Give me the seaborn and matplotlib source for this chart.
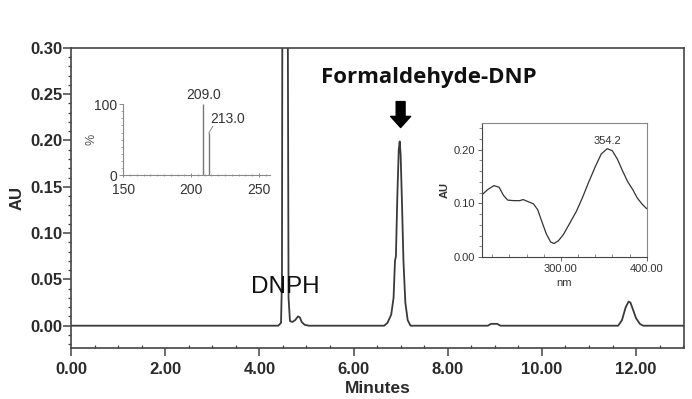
import matplotlib
matplotlib.use('Agg')
import numpy as np
import pandas as pd
import matplotlib.pyplot as plt
from matplotlib.ticker import MultipleLocator, FormatStrFormatter
import seaborn as sns

# Chromatogram (minutes, AU)
time_min = [0.0, 4.40, 4.46, 4.48, 4.49, 4.60, 4.62, 4.65, 4.70, 4.76, 4.82, 4.86,
            4.90, 4.96, 5.05, 6.65, 6.72, 6.80, 6.85, 6.88, 6.90, 6.93, 6.96, 6.98,
            7.00, 7.03, 7.06, 7.10, 7.15, 7.21, 8.85, 8.92, 9.05, 9.12, 11.62, 11.70,
            11.78, 11.84, 11.88, 11.93, 12.00, 12.08, 12.15, 13.1]
au = [0.0, 0.0, 0.003, 0.05, 0.40, 0.40, 0.03, 0.005, 0.004, 0.006, 0.010, 0.009,
      0.004, 0.001, 0.0, 0.0, 0.003, 0.012, 0.03, 0.07, 0.075, 0.14, 0.19, 0.199,
      0.185, 0.13, 0.07, 0.025, 0.006, 0.0, 0.0, 0.002, 0.002, 0.0, 0.0, 0.006,
      0.02, 0.026, 0.025, 0.018, 0.008, 0.002, 0.0, 0.0]

# Mass spectrum inset (m/z, %)
mz = [209.0, 213.0]
intensity = [100, 59]
mz_labels = ['209.0', '213.0']

# UV spectrum inset (nm, AU)
wavelength = [208, 215, 222, 228, 233, 238, 245, 252, 256, 262, 268, 273, 278, 283,
              288, 292, 297, 303, 310, 318, 325, 332, 340, 347, 354, 360, 366, 372,
              378, 384, 389, 395, 400]
uv_au = [0.116, 0.126, 0.133, 0.130, 0.115, 0.106, 0.105, 0.105, 0.107, 0.103,
         0.099, 0.088, 0.065, 0.043, 0.028, 0.025, 0.030, 0.042, 0.062, 0.085,
         0.110, 0.138, 0.168, 0.192, 0.202, 0.198, 0.182, 0.160, 0.140, 0.125,
         0.110, 0.098, 0.090]

sns.set_style('ticks')
plt.rcParams['font.family'] = ['Liberation Sans', 'DejaVu Sans']

fig = plt.figure(figsize=(6.92, 3.99), dpi=100)
ax = fig.add_axes([0.1026, 0.128, 0.886, 0.752])

chrom = pd.DataFrame({'t': time_min, 'au': au})
sns.lineplot(data=chrom, x='t', y='au', ax=ax, color='#3a3a3a', lw=1.3, estimator=None)
ax.set_xlim(0, 13.02)
ax.set_ylim(-0.024, 0.30)
ax.xaxis.set_major_locator(MultipleLocator(2))
ax.xaxis.set_minor_locator(MultipleLocator(0.5))
ax.yaxis.set_major_locator(MultipleLocator(0.05))
ax.yaxis.set_minor_locator(MultipleLocator(0.01))
ax.xaxis.set_major_formatter(FormatStrFormatter('%.2f'))
ax.yaxis.set_major_formatter(FormatStrFormatter('%.2f'))
ax.tick_params(which='major', length=6, width=1.1, color='#444444', labelsize=12, pad=0)
ax.tick_params(which='minor', length=2.5, width=0.9, color='#444444')
ax.tick_params(axis='x', which='major', pad=4)
ax.tick_params(axis='x', which='minor', direction='in')
for lab in ax.get_xticklabels() + ax.get_yticklabels():
    lab.set_fontweight('bold')
    lab.set_color('#2a2a2a')
for s in ax.spines.values():
    s.set_color('#444444')
    s.set_linewidth(1.2)
ax.set_xlabel('Minutes', fontsize=12.5, fontweight='bold', labelpad=3, color='#2a2a2a')
ax.set_ylabel('AU', fontsize=12, fontweight='bold', labelpad=4, color='#2a2a2a')

ax.text(4.55, 0.042, 'DNPH', fontsize=17.5, ha='center', va='center', color='#111111')
ax.text(7.6, 0.268, 'Formaldehyde-DNP', fontsize=16, fontweight='bold', ha='center',
        va='center', family=['Open Sans', 'DejaVu Sans'], color='#111111')
ax.annotate('', xy=(7.0, 0.214), xytext=(7.0, 0.242),
            arrowprops=dict(arrowstyle='simple,head_length=0.4,head_width=0.72,tail_width=0.32',
                            color='black', mutation_scale=20, shrinkA=0, shrinkB=0))

# Mass spectrum inset
ax1 = fig.add_axes([0.178, 0.561, 0.212, 0.178])
ax1.vlines(mz, 0, intensity, color='#777777', lw=1.0)
ax1.set_xlim(150, 258)
ax1.set_ylim(0, 100)
ax1.set_xticks([150, 200, 250])
ax1.set_yticks([0, 100])
ax1.xaxis.set_minor_locator(MultipleLocator(5))
ax1.yaxis.set_minor_locator(MultipleLocator(10))
ax1.tick_params(which='major', length=3, width=0.7, color='#888888', labelsize=10,
                labelcolor='#333333', pad=1)
ax1.tick_params(which='minor', length=1.5, width=0.6, color='#999999')
ax1.tick_params(axis='x', which='both', direction='inout', pad=4)
for side in ['top', 'right']:
    ax1.spines[side].set_visible(False)
for side in ['left', 'bottom']:
    ax1.spines[side].set_color('#888888')
    ax1.spines[side].set_linewidth(0.8)
ax1.set_ylabel('%', fontsize=9, color='#555555', labelpad=-2)
ax1.patch.set_alpha(0)
ax1.text(mz[0], intensity[0] + 3, mz_labels[0], fontsize=10, ha='center', va='bottom',
         color='#333333')
ax1.plot([mz[1], mz[1] + 3], [intensity[1], intensity[1] + 10], color='#888888', lw=0.7)
ax1.text(mz[1] + 1, intensity[1] + 10, mz_labels[1], fontsize=10, ha='left', va='bottom',
         color='#333333')

# UV spectrum inset
ax2 = fig.add_axes([0.6965, 0.356, 0.238, 0.336])
uv = pd.DataFrame({'nm': wavelength, 'au': uv_au})
sns.lineplot(data=uv, x='nm', y='au', ax=ax2, color='#333333', lw=0.9, estimator=None)
ax2.set_xlim(208, 400)
ax2.set_ylim(0, 0.25)
ax2.set_xticks([300, 400])
ax2.set_yticks([0.0, 0.1, 0.2])
ax2.xaxis.set_minor_locator(MultipleLocator(20))
ax2.yaxis.set_minor_locator(MultipleLocator(0.02))
ax2.xaxis.set_major_formatter(FormatStrFormatter('%.2f'))
ax2.yaxis.set_major_formatter(FormatStrFormatter('%.2f'))
ax2.tick_params(which='major', length=3, width=0.7, color='#666666', labelsize=8,
                labelcolor='#333333', pad=2)
ax2.tick_params(which='minor', length=2, width=0.6, color='#777777')
ax2.tick_params(axis='x', which='minor', direction='in')
for s in ax2.spines.values():
    s.set_color('#888888')
    s.set_linewidth(0.8)
ax2.spines['left'].set_color('#444444')
ax2.spines['bottom'].set_color('#444444')
ax2.set_xlabel('nm', fontsize=8, color='#333333', labelpad=3)
ax2.set_ylabel('AU', fontsize=8, fontweight='bold', color='#333333', labelpad=3)
ax2.text(354.2, 0.207, '354.2', fontsize=8, ha='center', va='bottom', color='#333333')

fig.savefig('out.png', dpi=100)
